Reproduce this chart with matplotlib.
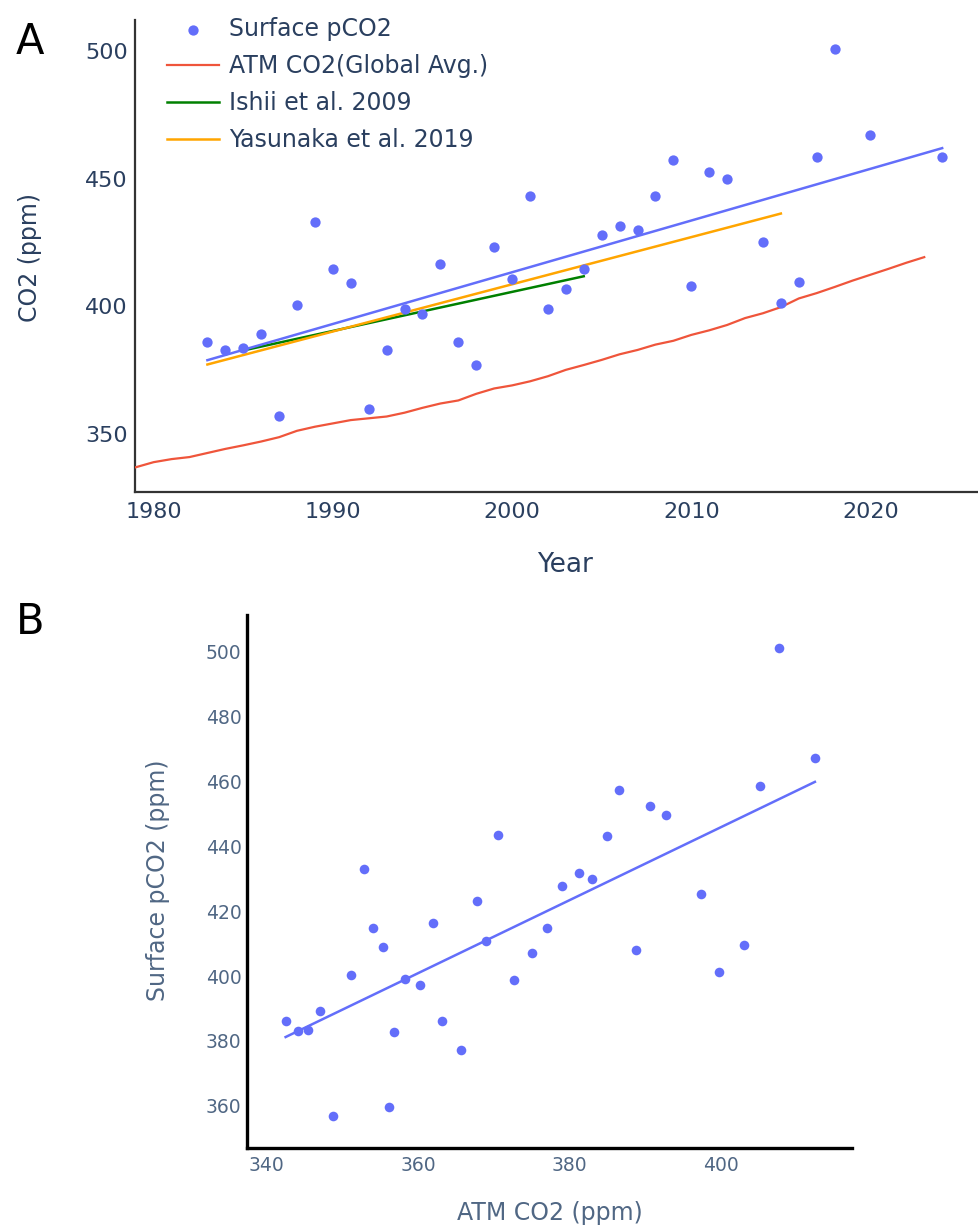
import numpy as np
import matplotlib.pyplot as plt

plt.rcParams['font.family'] = ['DejaVu Sans']

# global average atmospheric CO2 (ppm)
atm_years = list(range(1979, 2024))
atm_co2 = [336.9, 338.9, 340.1, 340.9, 342.5, 344.1, 345.5, 347.0, 348.7, 351.2,
           352.8, 354.1, 355.4, 356.1, 356.8, 358.3, 360.2, 361.9, 363.1, 365.7,
           367.8, 369.0, 370.6, 372.6, 375.1, 377.0, 379.0, 381.2, 382.9, 385.0,
           386.5, 388.8, 390.6, 392.7, 395.4, 397.3, 399.7, 403.1, 405.2, 407.6,
           410.1, 412.4, 414.7, 417.1, 419.3]

# surface pCO2 observations
surf_years = list(range(1983, 2013)) + [2014, 2015, 2016, 2017, 2018, 2020, 2024]
surf_pco2 = [386.0, 383.0, 383.5, 389.3, 357.0, 400.4, 433.0, 414.8, 409.1, 359.7,
             382.9, 399.0, 397.2, 416.5, 386.2, 377.1, 423.2, 410.8, 443.4, 398.8,
             407.0, 414.8, 427.8, 431.7, 430.0, 443.2, 457.3, 408.0, 452.5, 449.8,
             425.2, 401.2, 409.6, 458.5, 501.1, 467.2, 458.4]

# published trends
ishii_years = [1985, 2004]
ishii_vals = [382.7, 411.8]
yasunaka_years = [1983, 2015]
yasunaka_vals = [377.2, 436.4]

BLUE = '#636efa'
RED = '#ef553b'
TXT_A = '#2a3f5f'
TXT_B = '#506784'

fig = plt.figure(figsize=(9.79, 12.28), dpi=100)

# ---- panel A ----
axA = fig.add_axes([135 / 979, 1 - 492 / 1228, 843 / 979, 472 / 1228])
axA.scatter(surf_years, surf_pco2, s=55, color=BLUE, zorder=4, label='Surface pCO2', linewidths=0)
axA.plot(atm_years, atm_co2, color=RED, lw=1.6, label='ATM CO2(Global Avg.)', zorder=3)
axA.plot(ishii_years, ishii_vals, color='green', lw=1.8, label='Ishii et al. 2009', zorder=3)
axA.plot(yasunaka_years, yasunaka_vals, color='orange', lw=1.8, label='Yasunaka et al. 2019', zorder=3)

fit = np.polyfit(surf_years, surf_pco2, 1)
yr = np.array([min(surf_years), max(surf_years)])
axA.plot(yr, np.polyval(fit, yr), color=BLUE, lw=1.8, zorder=3)

axA.set_xlim(1978.96, 2026)
axA.set_ylim(327.2, 512.3)
axA.set_xticks([1980, 1990, 2000, 2010, 2020])
axA.set_yticks([350, 400, 450, 500])
axA.tick_params(length=0, labelsize=16, labelcolor=TXT_A, pad=7)
axA.tick_params(axis='y', pad=5)
for s in ['top', 'right']:
    axA.spines[s].set_visible(False)
for s in ['left', 'bottom']:
    axA.spines[s].set_color('#333333')
    axA.spines[s].set_linewidth(1.6)

handles, labels = axA.get_legend_handles_labels()
leg = axA.legend(handles, labels, loc='upper left', bbox_to_anchor=(167 / 979, 1 - 17 / 1228),
                 bbox_transform=fig.transFigure, frameon=False, fontsize=17,
                 borderpad=0, borderaxespad=0, handlelength=2.2, handletextpad=0.42,
                 labelspacing=0.55, scatterpoints=1)
for t in leg.get_texts():
    t.set_color(TXT_A)

fig.text(30 / 979, 1 - 42 / 1228, 'A', fontsize=30, ha='center', va='center', color='black')
fig.text(30 / 979, 1 - 258 / 1228, 'CO2 (ppm)', fontsize=17, rotation=90,
         ha='center', va='center', color=TXT_A)
fig.text(565 / 979, 1 - 565 / 1228, 'Year', fontsize=19, ha='center', va='center', color=TXT_A)

# ---- panel B ----
atm_lookup = dict(zip(atm_years, atm_co2))
pair_atm = [atm_lookup[y] for y in surf_years if y in atm_lookup]
pair_surf = [v for y, v in zip(surf_years, surf_pco2) if y in atm_lookup]

axB = fig.add_axes([247 / 979, 1 - 1148 / 1228, 605 / 979, 533 / 1228])
axB.scatter(pair_atm, pair_surf, s=48, color=BLUE, zorder=4, linewidths=0)
fitB = np.polyfit(pair_atm, pair_surf, 1)
xa = np.array([min(pair_atm), max(pair_atm)])
axB.plot(xa, np.polyval(fitB, xa), color=BLUE, lw=1.8, zorder=3)

axB.set_xlim(337.4, 417.3)
axB.set_ylim(347.0, 511.3)
axB.set_xticks([340, 360, 380, 400])
axB.set_yticks([360, 380, 400, 420, 440, 460, 480, 500])
axB.tick_params(length=0, labelsize=13.5, labelcolor=TXT_B, pad=6)
axB.tick_params(axis='y', pad=4)
for s in ['top', 'right']:
    axB.spines[s].set_visible(False)
for s in ['left', 'bottom']:
    axB.spines[s].set_color('black')
    axB.spines[s].set_linewidth(2.4)

fig.text(30 / 979, 1 - 622 / 1228, 'B', fontsize=30, ha='center', va='center', color='black')
fig.text(158 / 979, 1 - 880 / 1228, 'Surface pCO2 (ppm)', fontsize=17, rotation=90,
         ha='center', va='center', color=TXT_B)
fig.text(550 / 979, 1 - 1213 / 1228, 'ATM CO2 (ppm)', fontsize=17, ha='center', va='center',
         color=TXT_B)

fig.savefig('out.png', dpi=100)
